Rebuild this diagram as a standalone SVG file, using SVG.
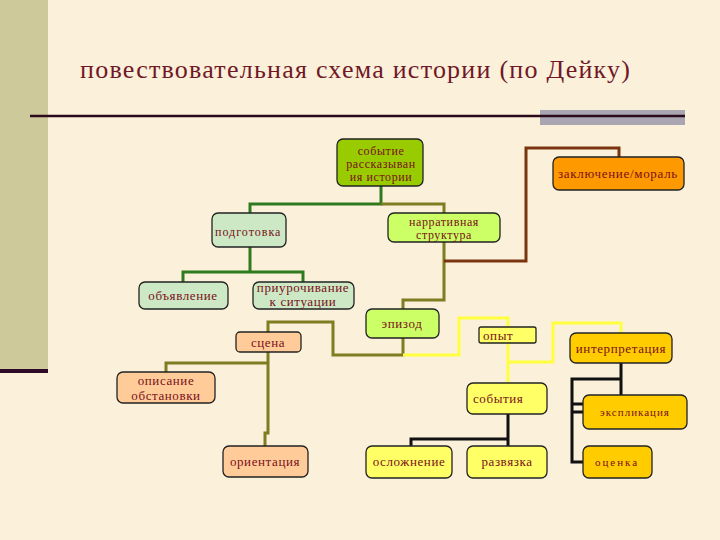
<svg xmlns="http://www.w3.org/2000/svg" width="720" height="540" viewBox="0 0 720 540">
<style>
.box{stroke:#222;stroke-width:1.3}
.t{font-family:"Liberation Serif","DejaVu Serif",serif;font-size:13px;fill:#7a0f1a;letter-spacing:0.6px}
.s{font-size:12px}
.xs{font-size:11px;letter-spacing:1px}
.c{text-anchor:middle}
.ln{fill:none;stroke-width:3}
.green{stroke:#2f7a1f}
.olive{stroke:#7f7d22}
.brown{stroke:#7a3410}
.yellow{stroke:#ffff40}
.black{stroke:#111}
.f1{fill:#99cc00}.f2{fill:#cde8c4}.f3{fill:#ccff66}.f4{fill:#ff9900}.f5{fill:#ffcc99}.f6{fill:#ffff66}.f7{fill:#ffcc00}
</style>
<rect width="720" height="540" fill="#fbf0d9"/>
<rect x="0" y="0" width="48" height="370" fill="#cdc99a"/>
<rect x="0" y="369" width="48" height="4" fill="#2e0a26"/>
<rect x="540" y="110" width="145" height="15" fill="#a9a5b1"/>
<line x1="30" y1="116" x2="685" y2="116" stroke="#2b0a1c" stroke-width="2.5"/>
<text x="80" y="78" font-family="Liberation Serif, serif" font-size="26" fill="#701828" textLength="550" lengthAdjust="spacing">повествовательная схема истории (по Дейку)</text>

<g id="connectors">
<path class="ln green" d="M381,186 V204 H250 V213"/>
<path class="ln green" d="M250,247 V272 H183 V282 M250,272 H303 V282"/>
<path class="ln olive" d="M381,204 H444 V300 H403 V309"/>
<path class="ln olive" d="M403,338 V355 H333 V322 H268 V332"/>
<path class="ln olive" d="M268,352 V363 H166 V372 M268,363 V433 H265 V446"/>
<path class="ln brown" d="M444,261 H526 V148 H619 V157"/>
<path class="ln yellow" d="M403,355 H459 V318 H508 V383"/>
<path class="ln yellow" d="M508,362 H553 V323 H621 V333"/>
<path class="ln black" d="M508,414 V439 H411 V446 M508,439 V446"/>
<path class="ln black" d="M621,363 V395 M621,379 H572 V462 H583 M572,404 H583 M572,412 H583"/>
</g>

<g id="n-sobytie"><rect class="box f1" x="337" y="139" width="86" height="47" rx="6"/>
<text class="t s c" x="381" y="155">событие</text><text class="t s c" x="381" y="168">рассказыван</text><text class="t s c" x="381" y="181">ия истории</text></g>
<g id="n-podgotovka"><rect class="box f2" x="212" y="213" width="74" height="34" rx="6"/>
<text class="t s" x="215" y="236" style="letter-spacing:1px">подготовка</text></g>
<g id="n-narrative"><rect class="box f3" x="388" y="213" width="112" height="29" rx="6"/>
<text class="t s c" x="444" y="226">нарративная</text><text class="t s c" x="444" y="239">структура</text></g>
<g id="n-zakl"><rect class="box f4" x="553" y="157" width="131" height="33" rx="6"/>
<text class="t c" x="618" y="178" style="letter-spacing:0.7px">заключение/мораль</text></g>
<g id="n-obyavl"><rect class="box f2" x="139" y="282" width="89" height="27" rx="6"/>
<text class="t c" x="183" y="300">объявление</text></g>
<g id="n-priur"><rect class="box f2" x="253" y="282" width="101" height="27" rx="6"/>
<text class="t c" x="303" y="292">приурочивание</text><text class="t c" x="303" y="306">к ситуации</text></g>
<g id="n-epizod"><rect class="box f3" x="366" y="309" width="73" height="29" rx="6"/>
<text class="t c" x="402" y="328">эпизод</text></g>
<g id="n-scena"><rect class="box f5" x="236" y="332" width="65" height="20" rx="4"/>
<text class="t c" x="268" y="347">сцена</text></g>
<g id="n-opis"><rect class="box f5" x="117" y="372" width="98" height="31" rx="6"/>
<text class="t c" x="166" y="385">описание</text><text class="t c" x="166" y="400">обстановки</text></g>
<g id="n-orient"><rect class="box f5" x="223" y="446" width="85" height="31" rx="6"/>
<text class="t c" x="265" y="466">ориентация</text></g>
<g id="n-opyt"><rect class="box f6" x="479" y="327" width="57" height="16" rx="2"/>
<text class="t" x="483" y="340">опыт</text></g>
<g id="n-interp"><rect class="box f7" x="570" y="333" width="102" height="30" rx="6"/>
<text class="t c" x="621" y="353">интерпретация</text></g>
<g id="n-sobytiya"><rect class="box f6" x="467" y="383" width="80" height="31" rx="6"/>
<text class="t" x="473" y="403">события</text></g>
<g id="n-eksp"><rect class="box f7" x="583" y="395" width="104" height="34" rx="6"/>
<text class="t xs c" x="635" y="416">экспликация</text></g>
<g id="n-oslozh"><rect class="box f6" x="366" y="446" width="86" height="32" rx="6"/>
<text class="t c" x="409" y="466">осложнение</text></g>
<g id="n-razv"><rect class="box f6" x="467" y="446" width="80" height="32" rx="6"/>
<text class="t c" x="507" y="466">развязка</text></g>
<g id="n-ocenka"><rect class="box f7" x="583" y="446" width="69" height="32" rx="6"/>
<text class="t xs c" x="617" y="466" style="letter-spacing:2px">оценка</text></g>
</svg>
